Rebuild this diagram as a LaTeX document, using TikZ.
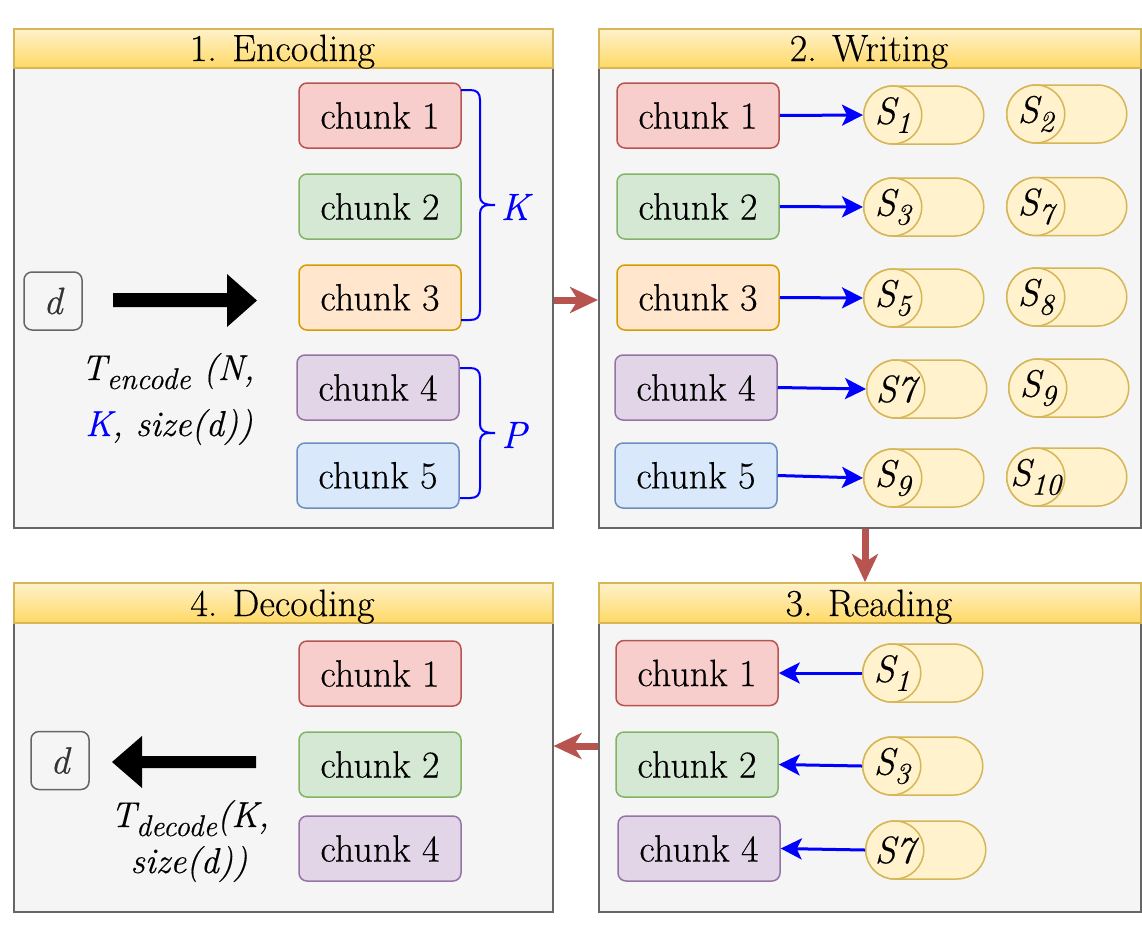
\documentclass[tikz,border=0pt]{standalone}
\usepackage{fontspec}
\setmainfont{Latin Modern Roman}[UprightFeatures={FakeBold=0.35},ItalicFeatures={FakeBold=0.35}]
\usetikzlibrary{arrows.meta,shapes.misc,shapes.geometric,calc}
\definecolor{redF}{HTML}{F8CECC}\definecolor{redD}{HTML}{B85450}
\definecolor{greenF}{HTML}{D5E8D4}\definecolor{greenD}{HTML}{82B366}
\definecolor{orangeF}{HTML}{FFE6CC}\definecolor{orangeD}{HTML}{D79B00}
\definecolor{purpleF}{HTML}{E1D5E7}\definecolor{purpleD}{HTML}{9673A6}
\definecolor{blueF}{HTML}{DAE8FC}\definecolor{blueD}{HTML}{6C8EBF}
\definecolor{cylF}{HTML}{FFF2CC}\definecolor{cylD}{HTML}{D6B656}
\definecolor{panelF}{HTML}{F5F5F5}\definecolor{panelD}{HTML}{666666}
\definecolor{headTop}{HTML}{FFF2CC}\definecolor{headBot}{HTML}{FFD966}
\definecolor{dtext}{HTML}{333333}
\definecolor{pureblue}{HTML}{0000FF}
\newcommand\bigf{\fontsize{38}{44}\selectfont}
\newcommand\tfnt{\fontsize{36}{44}\selectfont}
\newcommand\sfnt{\fontsize{38}{44}\selectfont}
\newcommand\lsub[1]{\raisebox{-9pt}{\fontsize{30}{30}\selectfont #1}}
\newcommand\cyl[4]{%
  \node[cylbody, anchor=west] (#1b) at (#2,#3) {};
  \node[cylend, anchor=west] (#1) at (#2,#3) {};
  \node[slab] (#1t) at (#1.center) {#4};
}
\begin{document}
\begin{tikzpicture}[x=1pt,y=-1pt,
  panel/.style={draw=panelD, fill=panelF, line width=1.5pt, inner sep=0pt, anchor=north west},
  header/.style={draw=cylD, line width=1.5pt, top color=headTop, bottom color=headBot, inner sep=0pt, anchor=north west},
  title/.style={anchor=base, font=\bigf},
  chunk/.style={rounded corners=8pt, line width=1.5pt, minimum width=162pt, minimum height=65pt, inner sep=0pt, font=\bigf},
  cA/.style={chunk, draw=redD, fill=redF},
  cB/.style={chunk, draw=greenD, fill=greenF},
  cC/.style={chunk, draw=orangeD, fill=orangeF},
  cD/.style={chunk, draw=purpleD, fill=purpleF},
  cE/.style={chunk, draw=blueD, fill=blueF},
  cylbody/.style={rounded rectangle, draw=cylD, fill=cylF, line width=1.5pt, minimum width=120pt, minimum height=58pt, inner sep=0pt},
  cylend/.style={ellipse, draw=cylD, fill=cylF, line width=1.5pt, minimum width=58pt, minimum height=58pt, inner sep=0pt},
  slab/.style={font=\sfnt\itshape, inner sep=0pt},
  barrow/.style={draw=pureblue, line width=3pt, -{Stealth[length=21pt,width=21pt,inset=5pt]}},
  rarrow/.style={draw=redD, line width=7pt, -{Stealth[length=28pt,width=26pt,inset=8pt]}},
  dbox/.style={rounded corners=8pt, draw=panelD, line width=1.5pt, minimum width=58pt, minimum height=58pt, inner sep=0pt, font=\bigf\itshape, text=dtext},
  brace/.style={draw=pureblue, line width=2pt},
  lbl/.style={font=\bigf\itshape, text=pureblue, inner sep=0pt},
  ttext/.style={anchor=base, font=\tfnt\itshape, inner sep=0pt}
]
\useasboundingbox (0,0) rectangle (1142,924);

% ---------- panels ----------
\node[panel, minimum width=539pt, minimum height=499pt] (P1) at (13,28) {};
\node[header, minimum width=539pt, minimum height=39pt] (H1) at (13,28) {};
\node[title] (T1) at (282.5,61) {1. Encoding};

\node[panel, minimum width=542pt, minimum height=499pt] (P2) at (598,28) {};
\node[header, minimum width=542pt, minimum height=39pt] (H2) at (598,28) {};
\node[title] (T2) at (869,61) {2. Writing};

\node[panel, minimum width=542pt, minimum height=329pt] (P3) at (598,582) {};
\node[header, minimum width=542pt, minimum height=40pt] (H3) at (598,582) {};
\node[title] (T3) at (869,616) {3. Reading};

\node[panel, minimum width=539pt, minimum height=329pt] (P4) at (13,582) {};
\node[header, minimum width=539pt, minimum height=40pt] (H4) at (13,582) {};
\node[title] (T4) at (282.5,616) {4. Decoding};

% ---------- panel 1: encoding ----------
\node[dbox] (d1) at (53,301) {d};
\fill[black] (113,293) -- (227,293) -- (227,274) -- (257,300.5) -- (227,327) -- (227,307) -- (113,307) -- cycle;
\node[ttext] (te1) at (168,380) {T\lsub{encode} (N,};
\node[ttext] (te2) at (169,436) {\textcolor{pureblue}{K}, size(d))};

\node[cA] (e1) at (380,115.5) {chunk 1};
\node[cB] (e2) at (380,206.5) {chunk 2};
\node[cC] (e3) at (380,297.5) {chunk 3};
\node[cD] (e4) at (378,387.5) {chunk 4};
\node[cE] (e5) at (378,475.5) {chunk 5};

\draw[brace] (461,90) -- (470,90) .. controls (477,90) and (480,93) .. (480,100)
  -- (480,196) .. controls (480,202) and (483,205) .. (495,205)
  -- (489,205) .. controls (483,205) and (480,208) .. (480,214)
  -- (480,310) .. controls (480,317) and (477,320) .. (470,320) -- (461,320);
\node[lbl] (K) at (515,207) {K};
\draw[brace] (460,368) -- (470,368) .. controls (477,368) and (480,371) .. (480,378)
  -- (480,424) .. controls (480,430) and (483,433) .. (495,433)
  -- (489,433) .. controls (483,433) and (480,436) .. (480,442)
  -- (480,488) .. controls (480,495) and (477,498) .. (470,498) -- (460,498);
\node[lbl] (P) at (514,435) {P};

% ---------- panel 2: writing ----------
\node[cA] (w1) at (698,115.5) {chunk 1};
\node[cB] (w2) at (698,206.5) {chunk 2};
\node[cC] (w3) at (698,297.5) {chunk 3};
\node[cD] (w4) at (696,387.5) {chunk 4};
\node[cE] (w5) at (696,475.5) {chunk 5};

\cyl{sa1}{863}{115}{S\lsub{1}}
\cyl{sb1}{1006}{114}{S\lsub{2}}
\cyl{sa2}{863}{207}{S\lsub{3}}
\cyl{sb2}{1006}{206.5}{S\lsub{7}}
\cyl{sa3}{863}{298}{S\lsub{5}}
\cyl{sb3}{1006}{297}{S\lsub{8}}
\cyl{sa4}{866}{389}{S7}
\cyl{sb4}{1008}{388}{S\lsub{9}}
\cyl{sa5}{863}{478}{S\lsub{9}}
\cyl{sb5}{1006}{477}{S\lsub{10}}

\draw[barrow] (w1.east) -- (sa1.west);
\draw[barrow] (w2.east) -- (sa2.west);
\draw[barrow] (w3.east) -- (sa3.west);
\draw[barrow] (w4.east) -- (sa4.west);
\draw[barrow] (w5.east) -- (sa5.west);

% ---------- panel 3: reading ----------
\node[cA] (r1) at (697,673) {chunk 1};
\node[cB] (r2) at (697,764.5) {chunk 2};
\node[cD] (r3) at (699,848.5) {chunk 4};
\cyl{ra1}{862}{673}{S\lsub{1}}
\cyl{ra2}{862}{766}{S\lsub{3}}
\cyl{ra3}{865}{850}{S7}
\draw[barrow] (ra1.west) -- (r1.east);
\draw[barrow] (ra2.west) -- (r2.east);
\draw[barrow] (ra3.west) -- (r3.east);

% ---------- panel 4: decoding ----------
\node[cA] (x1) at (380,673.5) {chunk 1};
\node[cB] (x2) at (380,764.5) {chunk 2};
\node[cD] (x3) at (380,848.5) {chunk 4};
\node[dbox] (d2) at (60,760.5) {d};
\fill[black] (256,756) -- (142,756) -- (142,736) -- (112,762) -- (142,788) -- (142,768) -- (256,768) -- cycle;
\node[ttext] (td1) at (190,827) {T\lsub{decode}(K,};
\node[ttext] (td2) at (189,873) {size(d))};

% ---------- red flow arrows ----------
\coordinate (r12) at (575,300);
\coordinate (r23) at (865,555);
\coordinate (r34) at (575,746);
\draw[rarrow] (P1.east |- r12) -- (P2.west |- r12);
\draw[rarrow] (P2.south -| r23) -- (H3.north -| r23);
\draw[rarrow] (P3.west |- r34) -- (P4.east |- r34);
\end{tikzpicture}
\end{document}
